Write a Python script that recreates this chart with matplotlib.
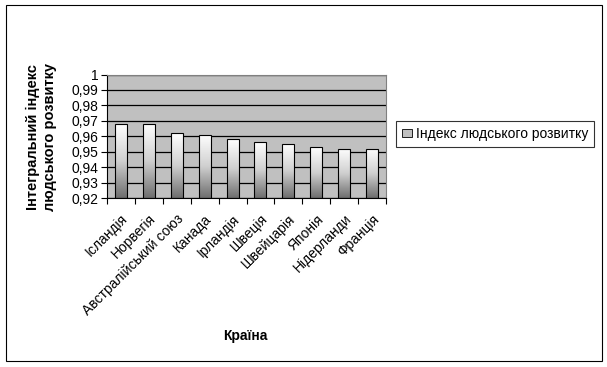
import matplotlib.pyplot as plt
import numpy as np
from matplotlib.patches import Rectangle, Patch
from matplotlib.ticker import FuncFormatter
from matplotlib.colors import LinearSegmentedColormap

plt.rcParams['font.family'] = ['Liberation Sans', 'DejaVu Sans']

countries = ['Ісландія', 'Норвегія', 'Австралійський союз', 'Канада', 'Ірландія',
             'Швеція', 'Швейцарія', 'Японія', 'Нідерланди', 'Франція']
hdi = [0.968, 0.968, 0.962, 0.961, 0.958, 0.956, 0.955, 0.953, 0.952, 0.952]
yticks = [0.92, 0.93, 0.94, 0.95, 0.96, 0.97, 0.98, 0.99, 1.0]

fig = plt.figure(figsize=(6.07, 3.67), dpi=100)
ax = fig.add_axes([107/607, 1-198/367, (386-107)/607, (198-74.5)/367])
ax.set_facecolor('#c0c0c0')

x = np.arange(len(countries))
w = 0.43
bars = ax.bar(x, [v-0.92 for v in hdi], bottom=0.92, width=w,
              facecolor='none', edgecolor='black', linewidth=0.8, zorder=3)

# вертикальний градієнт: білий зверху, сірий знизу
grad = np.linspace(1, 0, 256).reshape(-1, 1)
cm = LinearSegmentedColormap.from_list('g', ['#6e6e6e', '#d0d0d0', '#ffffff'])
for b in bars:
    x0 = b.get_x()
    y1 = b.get_y()+b.get_height()
    im = ax.imshow(grad, extent=[x0, x0+w, 0.92, y1], aspect='auto',
                   cmap=cm, vmin=0, vmax=1, origin='upper', zorder=2)
    im.set_clip_path(b)

ax.set_xlim(-0.5, len(countries)-0.5)
ax.set_ylim(0.92, 1.0)
ax.set_yticks(yticks)
ax.yaxis.set_major_formatter(FuncFormatter(lambda v, p: ('%g' % round(v, 2)).replace('.', ',')))
ax.grid(axis='y', color='black', linewidth=0.9, zorder=1)
ax.set_axisbelow(True)

ax.set_xticks(np.arange(len(countries)+1)-0.5, minor=False)
ax.set_xticklabels([])
ax.set_xticks(x, minor=True)
ax.set_xticklabels(countries, minor=True, rotation=45, ha='right', rotation_mode='anchor', fontsize=10)
ax.tick_params(axis='x', which='minor', length=0, pad=10)
ax.tick_params(axis='x', which='major', length=4, direction='out', color='black')
ax.tick_params(axis='y', length=4, labelsize=10, pad=2)

for s in ['top', 'right']:
    ax.spines[s].set_color('#808080')
for s in ['left', 'bottom']:
    ax.spines[s].set_color('black')

fig.text(0.068, 0.6275, 'Інтегральний індекс\nлюдського розвитку', rotation=90,
         ha='center', va='center', fontsize=10.5, fontweight='bold', linespacing=1.25)
fig.text(245/607, 1-336/367, 'Країна', ha='center', va='center', fontsize=10, fontweight='bold')

leg = fig.legend(handles=[Patch(facecolor='#c0c0c0', edgecolor='black', linewidth=0.6)],
                 labels=['Індекс людського розвитку'], loc='center',
                 bbox_to_anchor=(495/607, 1-134/367), fontsize=10, frameon=True,
                 fancybox=False, handlelength=0.7, handleheight=0.5, handletextpad=0.3,
                 borderpad=0.4)
leg.get_frame().set_edgecolor('black')
leg.get_frame().set_linewidth(0.8)

fig.patches.append(Rectangle((6/607, 1-361/367), 596/607, 356/367, transform=fig.transFigure,
                             fill=False, edgecolor='black', linewidth=0.8))

fig.savefig('out.png', dpi=100)
